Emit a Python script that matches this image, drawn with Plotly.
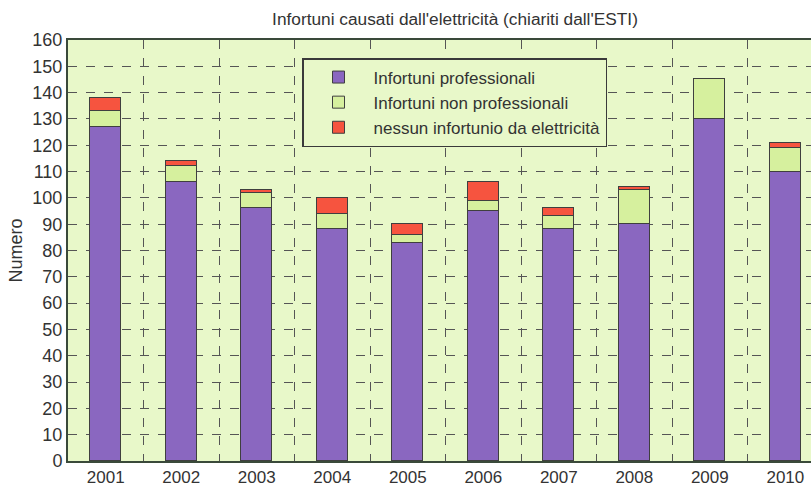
import plotly.graph_objects as go

years = ["2001", "2002", "2003", "2004", "2005", "2006", "2007", "2008", "2009", "2010"]
professionali = [127, 106, 96, 88, 83, 95, 88, 90, 130, 110]
non_professionali = [6, 6, 6, 6, 3, 4, 5, 13, 15, 9]
nessun_infortunio = [5, 2, 1, 6, 4, 7, 3, 1, 0, 2]
y_ticks = list(range(0, 161, 10))

names = ["Infortuni professionali", "Infortuni non professionali", "nessun infortunio da elettricità"]
colors = ["#8a67c0", "#d6f09e", "#f6543f"]
series = [professionali, non_professionali, nessun_infortunio]

fig = go.Figure()
for name, col, vals in zip(names, colors, series):
    fig.add_trace(go.Bar(
        x=years, y=vals, name=name, width=0.41,
        marker=dict(color=col, line=dict(color="#3f3f3f", width=1)),
    ))

W, H = 811, 486
L, T, B = 68, 40, 25
plot_w = W - L
plot_h = H - T - B

font_family = "Liberation Sans, Arial, sans-serif"
fig.update_layout(
    width=W, height=H,
    barmode="stack",
    paper_bgcolor="white",
    plot_bgcolor="#e8f8c9",
    margin=dict(l=L, r=0, t=T, b=B, autoexpand=False),
    font=dict(family=font_family, color="#333333", size=17),
    title=dict(text="Infortuni causati dall'elettricità (chiariti dall'ESTI)",
               x=455 / W, xanchor="center", y=1 - 19 / H, yanchor="middle",
               font=dict(size=17.3, color="#333333")),
    showlegend=True,
    legend=dict(
        x=(302 - L) / plot_w, xanchor="left", y=(461 - 58) / plot_h, yanchor="top",
        bgcolor="#e8f8c9", bordercolor="#3a3a3a", borderwidth=1.5,
        traceorder="normal", font=dict(size=17, color="#333333"),
        tracegroupgap=0, itemwidth=60,
    ),
    bargap=0,
)
fig.update_xaxes(
    type="category", range=[-0.5, 9.34],
    tickson="boundaries", ticks="", showgrid=True,
    gridcolor="#555555", griddash="dash", gridwidth=1,
    showline=True, linecolor="#3a4a3a", linewidth=2, mirror=True,
    tickfont=dict(size=17, color="#333333"),
)
fig.update_yaxes(
    range=[0, 160], tickvals=y_ticks, ticks="",
    showgrid=True, gridcolor="#555555", griddash="dash", gridwidth=1,
    showline=True, linecolor="#3a4a3a", linewidth=2, mirror=True,
    zeroline=False,
    tickfont=dict(size=18, color="#333333"),
    title=dict(text="Numero", font=dict(size=18, color="#333333"), standoff=5),
)

fig.write_html(
    "out.html",
    config={"displayModeBar": False},
    post_script="document.body.style.margin='0';document.body.style.overflow='hidden';",
)
